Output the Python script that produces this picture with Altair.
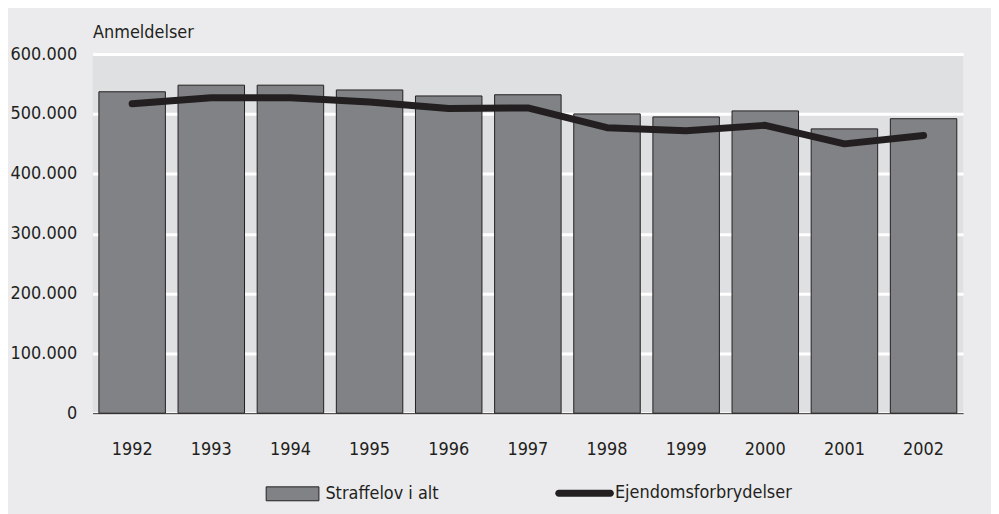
import altair as alt
import pandas as pd

years = ["1992", "1993", "1994", "1995", "1996", "1997", "1998", "1999", "2000", "2001", "2002"]
straffelov = [537000, 548000, 548000, 540000, 530000, 532000, 500000, 495000, 505000, 475000, 492000]
ejendom = [517000, 527000, 527000, 520000, 509000, 510000, 477000, 472000, 481000, 450000, 464000]
bar_name = "Straffelov i alt"
line_name = "Ejendomsforbrydelser"
y_ticks = [0, 100000, 200000, 300000, 400000, 500000, 600000]
y_title = "Anmeldelser"

df = pd.DataFrame({
    "year": years,
    "straffelov": straffelov,
    "ejendom": ejendom,
    "bar_series": [bar_name] * len(years),
    "line_series": [line_name] * len(years),
})

FONT = "'DejaVu Sans Condensed', 'Open Sans'"
FS = 18
INK = "#231f20"

x_axis = alt.Axis(
    title=None, labelAngle=0, ticks=False, labelPadding=27,
    domainColor=INK, domainWidth=1, labelFontSize=FS,
    labelColor=INK, labelFont=FONT,
)
y_axis = alt.Axis(
    values=y_ticks, title=y_title, titleAngle=0, titleAlign="left",
    titleX=0, titleY=-17, titleBaseline="alphabetic",
    titleFont=FONT, titleFontSize=FS, titleFontWeight="normal", titleColor=INK,
    labelExpr="replace(format(datum.value, ','), ',', '.')",
    labelFont=FONT, labelFontSize=FS, labelColor=INK, labelPadding=16,
    gridColor="white", gridWidth=3, domain=False, ticks=False,
)
x_scale = alt.Scale(paddingInner=0.16, paddingOuter=0.08)
y_scale = alt.Scale(domain=[0, 600000])

base = alt.Chart(df)

bars = base.mark_bar(stroke=INK, strokeWidth=1).encode(
    x=alt.X("year:O", scale=x_scale, axis=x_axis),
    y=alt.Y("straffelov:Q", scale=y_scale, axis=y_axis),
    fill=alt.Fill(
        "bar_series:N",
        scale=alt.Scale(range=["#808285"]),
        legend=alt.Legend(
            title=None, orient="none", legendX=174, legendY=415,
            symbolType="M-1,-0.264L1,-0.264L1,0.264L-1,0.264Z", symbolSize=2809,
            symbolStrokeColor=INK, symbolStrokeWidth=1, labelLimit=400,
            labelFontSize=FS, labelFont=FONT, labelColor=INK, labelOffset=6, padding=0,
        ),
    ),
)

line = base.mark_line(strokeWidth=7, strokeCap="round", strokeJoin="round").encode(
    x=alt.X("year:O", scale=x_scale, axis=x_axis),
    y=alt.Y("ejendom:Q", scale=y_scale, axis=y_axis),
    stroke=alt.Stroke(
        "line_series:N",
        scale=alt.Scale(range=[INK]),
        legend=alt.Legend(
            title=None, orient="none", legendX=465, legendY=412,
            symbolType="M-0.88,-0.119L0.88,-0.119A0.119,0.119 0 0 1 0.88,0.119L-0.88,0.119A0.119,0.119 0 0 1 -0.88,-0.119Z",
            symbolSize=3481, symbolFillColor=INK, symbolStrokeWidth=0, labelLimit=400,
            labelFontSize=FS, labelFont=FONT, labelColor=INK, labelOffset=1, padding=0,
        ),
    ),
)

chart = (
    alt.layer(bars, line)
    .properties(
        width=875,
        height=361,
        autosize=alt.AutoSizeParams(type="none"),
        padding={"left": 85, "top": 45, "right": 28, "bottom": 100},
        background="#ebebed",
    )
    .configure_view(fill="#dfe0e2", stroke=None)
)

chart.save("out.html", embed_options={"renderer": "svg", "actions": False})
